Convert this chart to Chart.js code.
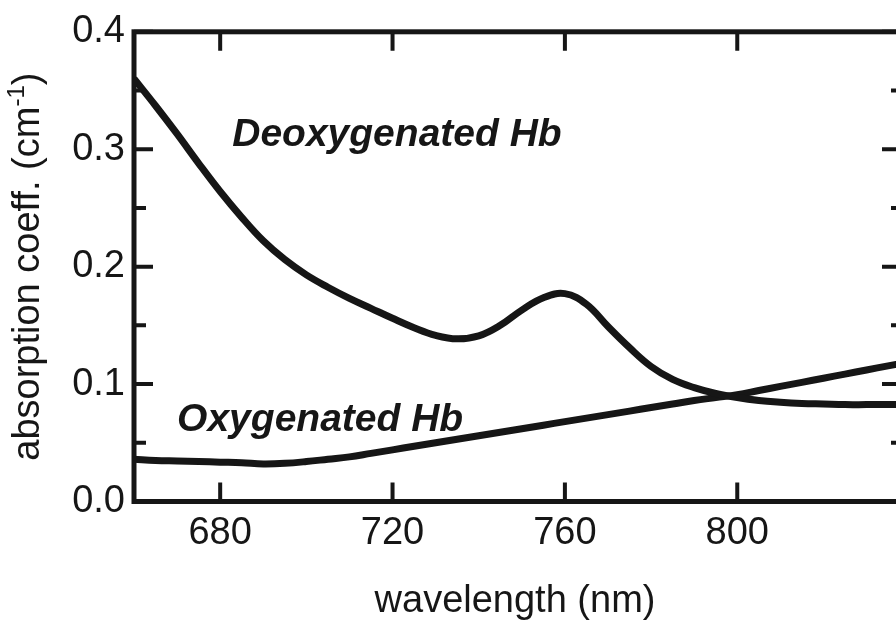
<!DOCTYPE html>
<html>
<head>
<meta charset="utf-8">
<script src="https://cdn.jsdelivr.net/npm/chart.js@4.4.1/dist/chart.umd.min.js"></script>
<style>
  body { margin: 0; background: #fff; overflow: hidden; }
  #wrap { width: 905px; height: 623px; }
</style>
</head>
<body>
<div id="wrap"><canvas id="spectra" width="905" height="623"></canvas></div>
<script>
// wavelength grid (nm) and absorption coefficients (cm-1)
var wavelengths = [660, 665, 670, 675, 680, 685, 690, 695, 700, 705, 710, 715, 720, 725, 730, 735, 740, 745, 750,
  755, 760, 765, 770, 775, 780, 785, 790, 795, 800, 805, 810, 815, 820, 825, 830, 835, 840];
var deoxyValues = [0.360, 0.337, 0.313, 0.288, 0.264, 0.242, 0.222, 0.206, 0.193, 0.1825, 0.173, 0.1645, 0.156,
  0.148, 0.1415, 0.1385, 0.141, 0.150, 0.163, 0.1735, 0.177, 0.168, 0.149, 0.131, 0.115, 0.104, 0.097, 0.092,
  0.0885, 0.086, 0.0845, 0.0835, 0.083, 0.0825, 0.0825, 0.0825, 0.0825];
var oxyValues = [0.036, 0.035, 0.0345, 0.034, 0.0335, 0.033, 0.032, 0.0325, 0.034, 0.036, 0.038, 0.041, 0.044,
  0.047, 0.050, 0.053, 0.056, 0.059, 0.062, 0.065, 0.068, 0.071, 0.074, 0.077, 0.080, 0.083, 0.086, 0.0885,
  0.091, 0.0945, 0.098, 0.1015, 0.105, 0.1085, 0.112, 0.1155, 0.119];

var xTicks = [680, 720, 760, 800];
var yTicks = [0, 0.1, 0.2, 0.3, 0.4];
var yMinorTicks = [0.05, 0.15, 0.25, 0.35];

var curveLabels = ['Deoxygenated Hb', 'Oxygenated Hb'];
var curveLabelX = [682.8, 670];
var curveLabelY = [0.303, 0.060];

var xTitle = 'wavelength (nm)';
var yTitle = 'absorption coeff. (cm';
var yTitleSup = '-1';
var yTitleEnd = ')';

var ink = '#161616';
var fontFamily = '"Liberation Sans", Arial, sans-serif';

function toPoints(values) {
  var points = [];
  for (var i = 0; i < wavelengths.length; i++) {
    points.push({x: wavelengths[i], y: values[i]});
  }
  return points;
}

function tickList(values) {
  var list = [];
  for (var i = 0; i < values.length; i++) {
    list.push({value: values[i]});
  }
  return list;
}

// box, inward ticks, axis titles and curve labels
var framePlugin = {
  id: 'frame',
  afterDatasetsDraw: function(chart) {
    var ctx = chart.ctx;
    var area = chart.chartArea;
    var xs = chart.scales.x;
    var ys = chart.scales.y;
    var i, p;
    ctx.save();
    ctx.strokeStyle = ink;
    ctx.lineWidth = 5;
    ctx.strokeRect(area.left, area.top, area.right - area.left, area.bottom - area.top);

    ctx.lineWidth = 4;
    ctx.beginPath();
    for (i = 0; i < xTicks.length; i++) {
      p = xs.getPixelForValue(xTicks[i]);
      ctx.moveTo(p, area.bottom);
      ctx.lineTo(p, area.bottom - 19);
      ctx.moveTo(p, area.top);
      ctx.lineTo(p, area.top + 19);
    }
    for (i = 0; i < yTicks.length; i++) {
      p = ys.getPixelForValue(yTicks[i]);
      ctx.moveTo(area.left, p);
      ctx.lineTo(area.left + 19, p);
      ctx.moveTo(area.right, p);
      ctx.lineTo(area.right - 19, p);
    }
    for (i = 0; i < yMinorTicks.length; i++) {
      p = ys.getPixelForValue(yMinorTicks[i]);
      ctx.moveTo(area.left, p);
      ctx.lineTo(area.left + 12, p);
      ctx.moveTo(area.right, p);
      ctx.lineTo(area.right - 10, p);
    }
    ctx.stroke();

    ctx.fillStyle = ink;
    ctx.textBaseline = 'alphabetic';

    // curve labels
    ctx.font = 'italic bold 39px ' + fontFamily;
    ctx.textAlign = 'left';
    for (i = 0; i < curveLabels.length; i++) {
      ctx.fillText(curveLabels[i], xs.getPixelForValue(curveLabelX[i]), ys.getPixelForValue(curveLabelY[i]));
    }

    // x title
    ctx.font = '38px ' + fontFamily;
    ctx.textAlign = 'center';
    ctx.fillText(xTitle, (area.left + 896) / 2, 612);

    // y title with superscript
    var mainFont = '38px ' + fontFamily;
    var supFont = '24px ' + fontFamily;
    ctx.font = mainFont;
    var w1 = ctx.measureText(yTitle).width;
    var w3 = ctx.measureText(yTitleEnd).width;
    ctx.font = supFont;
    var w2 = ctx.measureText(yTitleSup).width;
    var total = w1 + w2 + w3;
    ctx.translate(39, (area.top + area.bottom) / 2);
    ctx.rotate(-Math.PI / 2);
    ctx.textAlign = 'left';
    ctx.font = mainFont;
    ctx.fillText(yTitle, -total / 2, 0);
    ctx.font = supFont;
    ctx.fillText(yTitleSup, -total / 2 + w1, -15);
    ctx.font = mainFont;
    ctx.fillText(yTitleEnd, -total / 2 + w1 + w2, 0);
    ctx.restore();
  }
};

var spectraChart = new Chart(document.getElementById('spectra'), {
  type: 'line',
  data: {
    datasets: [
      {
        label: curveLabels[0],
        data: toPoints(deoxyValues),
        borderColor: ink,
        borderWidth: 7,
        pointRadius: 0,
        tension: 0.4,
        fill: false
      },
      {
        label: curveLabels[1],
        data: toPoints(oxyValues),
        borderColor: ink,
        borderWidth: 7,
        pointRadius: 0,
        tension: 0.4,
        fill: false
      }]
  },
  options: {
    responsive: false,
    animation: false,
    layout: { padding: { top: 28, right: 4, left: 0, bottom: 0 } },
    plugins: {
      legend: { display: false },
      tooltip: { enabled: false }
    },
    scales: {
      x: {
        type: 'linear',
        min: 660,
        max: 838,
        afterBuildTicks: function(scale) { scale.ticks = tickList(xTicks); },
        afterFit: function(scale) { scale.height = 121.5; },
        grid: { display: false, drawTicks: false },
        border: { display: false },
        ticks: {
          color: ink,
          font: { family: fontFamily, size: 38 },
          padding: 9,
          maxRotation: 0,
          autoSkip: false
        }
      },
      y: {
        min: 0,
        max: 0.4,
        afterBuildTicks: function(scale) { scale.ticks = tickList(yTicks); },
        afterFit: function(scale) { scale.width = 134; },
        grid: { display: false, drawTicks: false },
        border: { display: false },
        ticks: {
          color: ink,
          font: { family: fontFamily, size: 38 },
          padding: 9,
          autoSkip: false,
          callback: function(value) { return value.toFixed(1); }
        }
      }
    }
  },
  plugins: [framePlugin]
});
</script>
</body>
</html>
